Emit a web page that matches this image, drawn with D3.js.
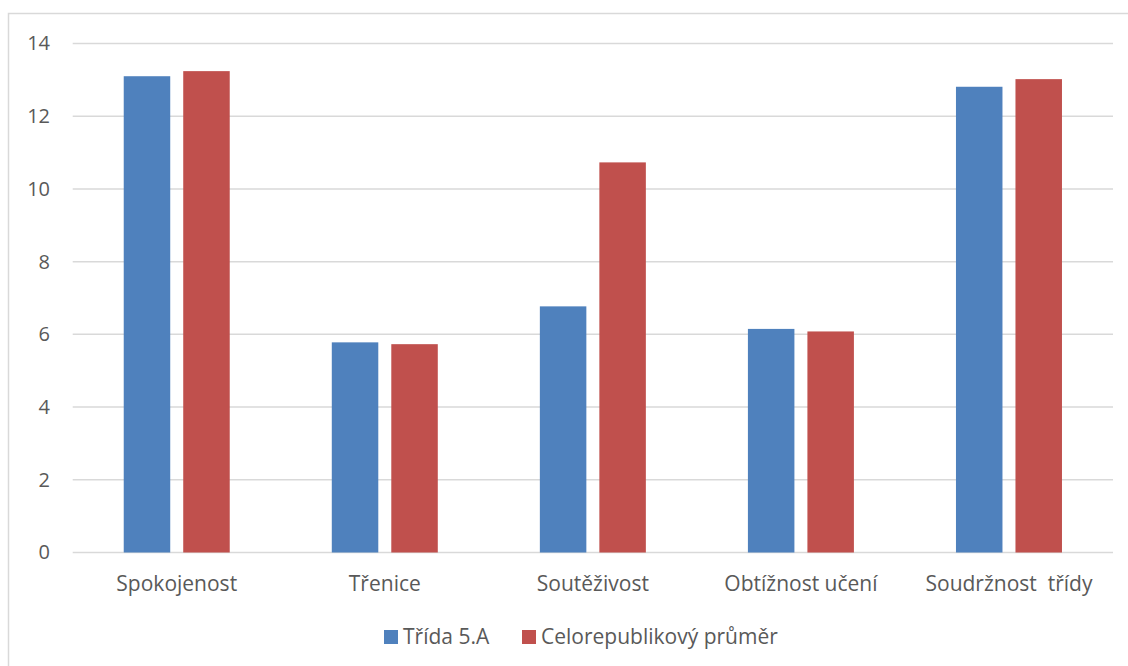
<!DOCTYPE html>
<html><head><meta charset="utf-8">
<script src="https://cdn.jsdelivr.net/npm/d3@7"></script>
<style>body{margin:0;background:#fff}svg{display:block;font-family:"Open Sans",sans-serif}</style>
</head><body><svg id="c" width="1128" height="666"></svg>
<script>
const categories = ["Spokojenost","Třenice","Soutěživost","Obtížnost učení","Soudržnost  třídy"];
const seriesNames = ["Třída 5.A","Celorepublikový průměr"];
const classValues = [13.10, 5.78, 6.77, 6.15, 12.81];
const nationalValues = [13.24, 5.73, 10.73, 6.08, 13.02];
const yTicks = [0,2,4,6,8,10,12,14];
const colors = ["#4F81BD","#C0504D"];

(function(){
const svg = d3.select("#c");
svg.append("rect").attr("x",8.5).attr("y",13.5).attr("width",1140).attr("height",700)
  .attr("fill","none").attr("stroke","#d9d9d9").attr("stroke-width",1.5);

const pl=72.7, pr=1113, pt=43.5, pb=552.5;
const x = d3.scaleBand().domain(categories).range([pl,pr]).paddingInner(0).paddingOuter(0);
const y = d3.scaleLinear().domain([0,14]).range([pb,pt]);
const barW = 46.5, gap = 13;
const x1 = d3.scaleOrdinal().domain([0,1]).range([-gap/2-barW, gap/2]);

const g = svg.append("g");
g.selectAll("line.grid").data(yTicks).join("line")
  .attr("x1",pl).attr("x2",pr).attr("y1",d=>y(d)).attr("y2",d=>y(d))
  .attr("stroke","#d9d9d9").attr("stroke-width",1.5);

const yAxis = d3.axisLeft(y).tickValues(yTicks).tickSize(0).tickPadding(0);
const ya = g.append("g").attr("transform","translate(50,0)").call(yAxis);
ya.select(".domain").remove();
ya.selectAll("text").attr("font-size",20).attr("fill","#595959").attr("font-family","Open Sans");

const data = [classValues, nationalValues];
data.forEach((vals,si)=>{
  g.selectAll("rect.s"+si).data(vals).join("rect").attr("class","s"+si)
    .attr("x",(d,i)=>x(categories[i])+x.bandwidth()/2+x1(si))
    .attr("width",barW)
    .attr("y",d=>y(d)).attr("height",d=>pb-y(d))
    .attr("fill",colors[si]);
});

const xAxis = d3.axisBottom(x).tickSize(0).tickPadding(0);
const xa = g.append("g").attr("transform",`translate(0,${pb})`).call(xAxis);
xa.select(".domain").remove();
xa.selectAll("text").attr("font-size",21).attr("fill","#595959").attr("font-family","Open Sans")
  .attr("dy",null).attr("y",38.5).style("white-space","pre");

const legendX=[384,522];
const lg = svg.append("g");
seriesNames.forEach((n,i)=>{
  lg.append("rect").attr("x",legendX[i]).attr("y",630).attr("width",14).attr("height",14).attr("fill",colors[i]);
  lg.append("text").attr("x",legendX[i]+19).attr("y",644).attr("font-size",21).attr("fill","#595959").text(n);
});
})();
</script></body></html>
